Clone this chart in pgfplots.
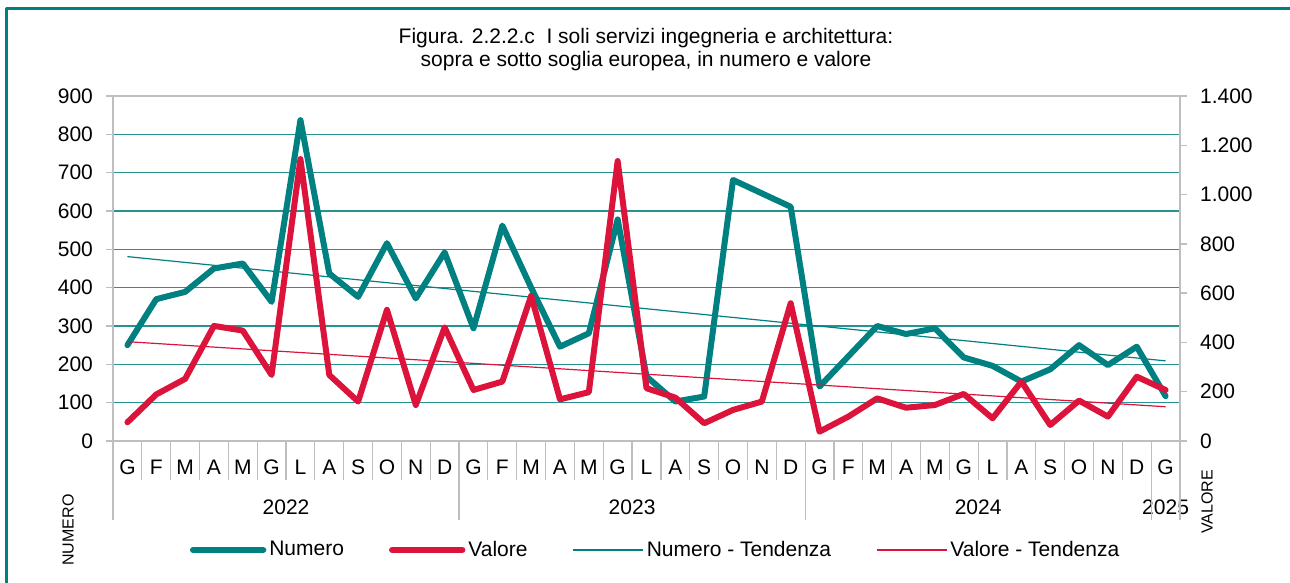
\documentclass[border=0pt]{standalone}
\usepackage{fontspec}
\setmainfont{Liberation Sans}
\usepackage{pgfplots}
\usepackage{pgfplotstable}
\pgfplotsset{compat=1.18}

\definecolor{numc}{RGB}{0,128,128}
\definecolor{valc}{RGB}{220,20,60}
\definecolor{axgray}{RGB}{190,190,190}

% x = month index (G 2022 = 0 ... G 2025 = 36); num on left axis, val on right axis
\pgfplotstableread{
x  num  val
0  250  76
1  370  189
2  389  252
3  450  467
4  463  448
5  363  268
6  837  1144
7  437  268
8  376  160
9  516  532
10 372  146
11 492  461
12 294  207
13 562  241
14 400  589
15 246  169
16 281  198
17 578  1136
18 168  214
19 103  176
20 116  72
21 681  126
22 646  160
23 611  559
24 142  38
25 221  99
26 300  173
27 279  135
28 294  146
29 218  191
30 196  92
31 155  241
32 187  65
33 250  164
34 198  99
35 246  261
36 117  207
}\datatable

\begin{document}
\begin{tikzpicture}[line join=round]
\useasboundingbox (0,0) rectangle (645pt,291.5pt);
\draw[numc, line width=1.5pt] (3pt,0) -- (3pt,287pt) -- (645pt,287pt);

\node[align=center, font=\fontsize{10.5}{11.5}\selectfont] at (323pt,266.5pt)
  {Figura. 2.2.2.c\ \ I soli servizi ingegneria e architettura:\\sopra e sotto soglia europea, in numero e valore};
\node[rotate=90, font=\fontsize{8}{9}\selectfont] at (34pt,26.5pt) {NUMERO};
\node[rotate=90, font=\fontsize{8}{9}\selectfont] at (603.5pt,40.5pt) {VALORE};

\pgfplotsset{
  every axis/.append style={
    at={(56.5pt,71pt)}, anchor=south west,
    scale only axis, width=533.5pt, height=172.5pt,
    xmin=-0.5, xmax=36.5,
    axis line style={axgray, line width=0.7pt},
    tick align=outside, major tick length=3.5pt,
    tick style={axgray, line width=0.7pt},
    tick label style={font=\fontsize{10.5}{12}\selectfont},
    /pgf/number format/assume math mode=true,
    clip=false,
  }
}

\begin{axis}[
  ymin=0, ymax=900,
  ytick={100,200,...,800},
  extra y ticks={0,900},
  extra y tick style={grid=none},
  ymajorgrids,
  grid style={numc!85, line width=0.6pt},
  ytick pos=left,
  y tick label style={xshift=-3pt},
  xtick={0,...,36},
  xticklabels={G,F,M,A,M,G,L,A,S,O,N,D,G,F,M,A,M,G,L,A,S,O,N,D,G,F,M,A,M,G,L,A,S,O,N,D,G},
  major x tick style={draw=none},
  x tick label style={anchor=center, yshift=-9.5pt},
  extra x ticks={-0.5,0.5,...,36.5},
  extra x tick labels={},
  extra x tick style={grid=none, major tick length=19.5pt,
    major x tick style={draw=axgray, line width=0.6pt}},
  xtick pos=bottom,
]
\addplot[numc, line width=3pt, line cap=round] table[x=x, y=num] {\datatable};
% trend line, end points
\addplot[numc, line width=0.6pt] coordinates {(0,481) (36,209)};
\end{axis}

\begin{axis}[
  ymin=0, ymax=1400,
  ytick={0,200,...,1400},
  axis y line*=right,
  axis x line*=bottom,
  y tick label style={xshift=3pt},
  /pgf/number format/.cd, 1000 sep={.}, /pgfplots/.cd,
  xtick={5.5,17.5,29.5,36},
  xticklabels={2022,2023,2024,2025},
  major x tick style={draw=none},
  x tick label style={anchor=center, yshift=-29.5pt},
  extra x ticks={-0.5,11.5,23.5,35.5,36.5},
  extra x tick labels={},
  extra x tick style={major tick length=39.5pt,
    major x tick style={draw=axgray, line width=0.6pt}},
  legend columns=4,
  legend style={at={(0.509,-0.316)}, anchor=center, draw=none, fill=none,
    font=\fontsize{10.5}{12}\selectfont,
    nodes={inner sep=1.5pt},
    /tikz/every odd column/.append style={column sep=0pt},
    /tikz/every even column/.append style={column sep=21pt}},
  legend image code/.code={\draw[#1] (0pt,0pt) -- (35pt,0pt);},
]
\addlegendimage{numc, line width=3.2pt, line cap=round}
\addlegendentry{Numero}
\addlegendimage{valc, line width=3.2pt, line cap=round}
\addlegendentry{Valore}
\addlegendimage{numc, line width=0.6pt}
\addlegendentry{Numero - Tendenza}
\addlegendimage{valc, line width=0.6pt}
\addlegendentry{Valore - Tendenza}
\addplot[valc, line width=3pt, line cap=round, forget plot] table[x=x, y=val] {\datatable};
\addplot[valc, line width=0.6pt, forget plot] coordinates {(0,403) (36,139)};
\end{axis}
\end{tikzpicture}
\end{document}
